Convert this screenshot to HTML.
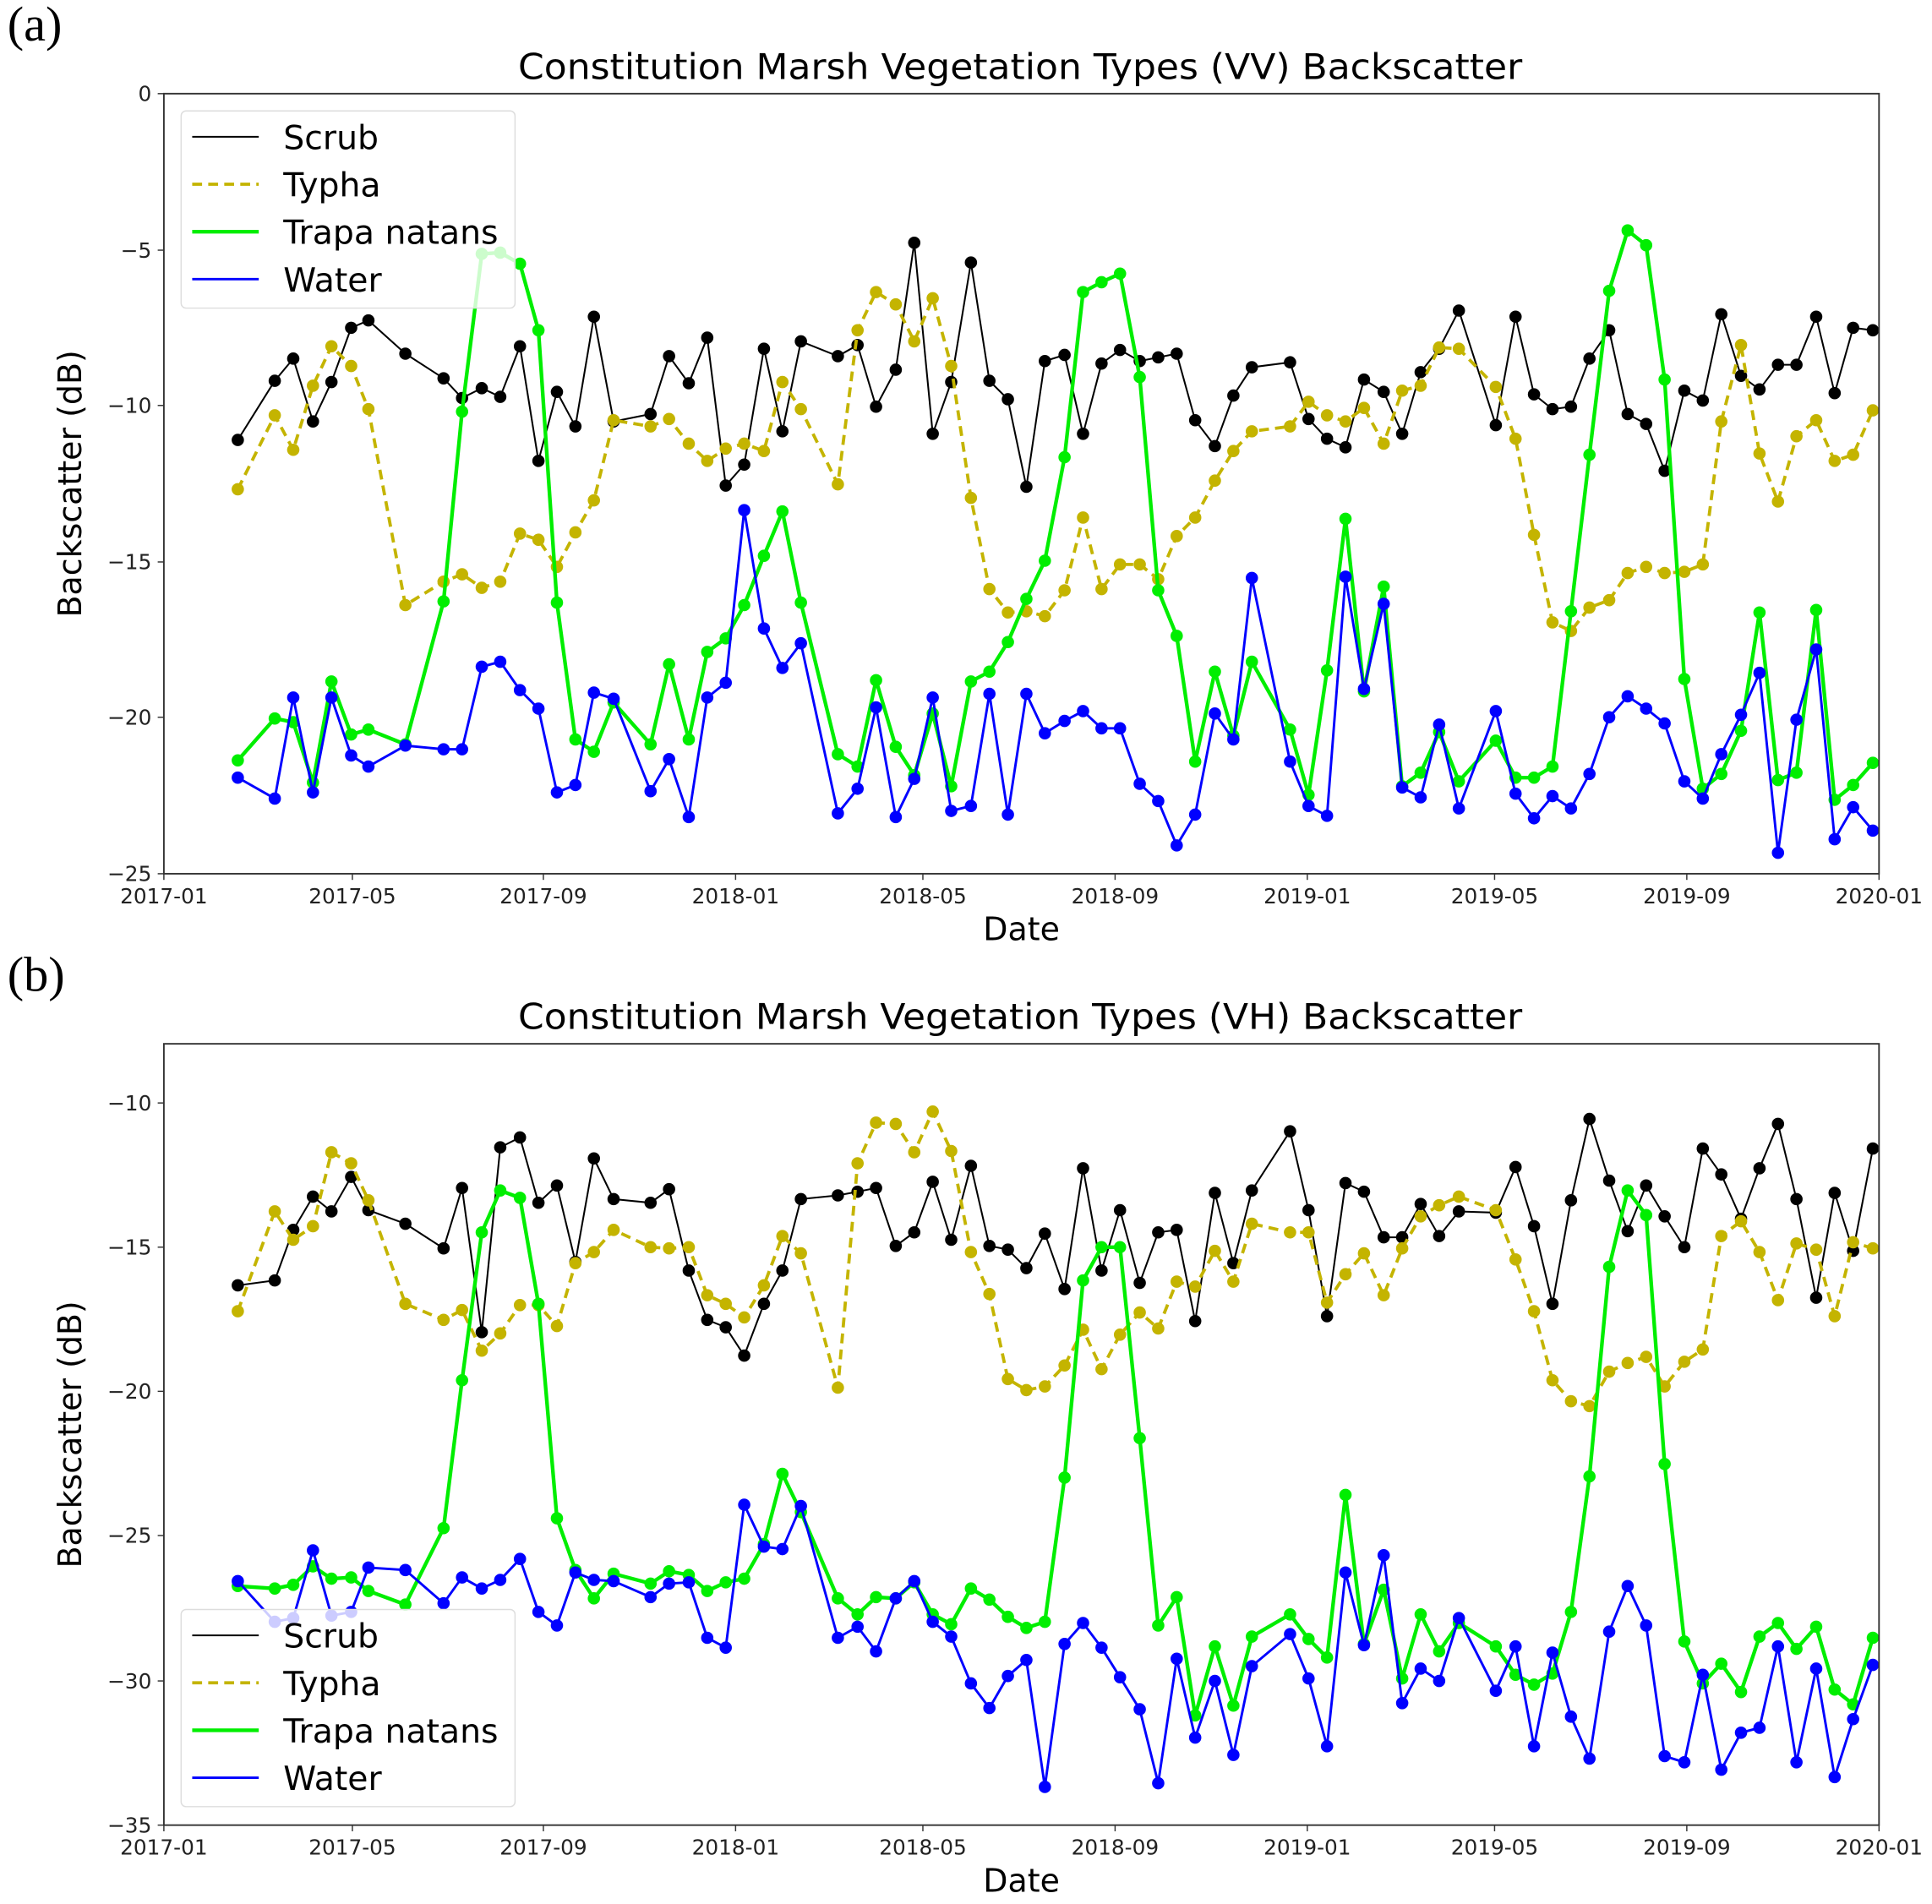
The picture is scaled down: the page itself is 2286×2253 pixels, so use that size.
<!DOCTYPE html>
<html><head><meta charset="utf-8"><style>html,body{margin:0;padding:0;background:#fff}svg{display:block}</style></head>
<body>
<svg id="s" width="2286" height="2253" viewBox="0 0 1568 1545" preserveAspectRatio="none" xmlns="http://www.w3.org/2000/svg" font-family="'DejaVu Sans','Liberation Sans',sans-serif"></svg>
<script>
const X=[193,223,238,254,269,285,299,329,360,375,391,406,422,437,452,467,482,498,528,543,559,574,589,604,620,635,650,680,696,711,727,742,757,772,788,803,818,833,848,864,879,894,909,925,940,955,970,986,1001,1016,1047,1062,1077,1092,1107,1123,1138,1153,1168,1184,1214,1230,1245,1260,1275,1290,1306,1321,1336,1351,1367,1382,1397,1413,1428,1443,1458,1474,1489,1504,1520];
const A={
s:[357,309,291,342,310,266,260,287,307,323,315,322,281,374,318,346,257,342,336,289,311,274,394,377,283,350,277,289,280,330,300,197,352,310,213,309,324,395,293,288,352,295,284,293,290,287,341,362,321,298,294,340,356,363,308,318,352,302,283,252,345,257,320,332,330,291,268,336,344,382,317,325,255,305,316,296,296,257,319,266,268],
t:[397,337,365,313,281,297,332,491,472,466,477,472,433,438,460,432,406,341,346,340,360,374,364,360,366,310,332,393,268,237,247,277,242,297,404,478,497,496,500,479,420,478,458,458,470,435,420,390,366,350,346,326,337,342,331,360,317,313,282,283,314,356,434,505,512,493,487,465,460,465,464,458,342,280,368,407,354,341,374,369,333],
g:[617,583,586,635,553,596,592,604,488,334,206,205,214,268,489,600,610,570,604,539,600,529,518,491,451,415,489,612,622,552,606,629,579,638,553,545,521,486,455,371,237,229,222,306,479,516,618,545,597,537,592,645,544,421,561,476,638,627,594,634,601,631,631,622,496,369,236,187,199,308,551,640,628,593,497,633,627,495,649,637,619],
w:[631,648,566,643,566,613,622,605,608,608,541,537,560,575,643,637,562,567,642,616,663,566,554,414,510,542,522,660,640,574,663,632,566,658,654,563,661,563,595,585,577,591,591,636,650,686,661,579,600,469,618,654,662,468,559,490,639,647,588,656,577,644,664,646,656,628,582,565,575,587,634,648,612,580,546,692,584,527,681,655,674]};
const B={
s:[1043,1039,998,971,983,955,982,993,1013,964,1081,931,923,976,962,1024,940,973,976,965,1031,1071,1077,1100,1058,1031,973,970,967,964,1011,1000,959,1006,946,1011,1014,1029,1001,1046,948,1031,982,1041,1000,998,1072,968,1025,966,918,982,1068,960,967,1004,1004,977,1003,983,984,947,995,1058,974,908,958,999,962,987,1012,932,953,989,948,912,973,1053,968,1015,932],
t:[1064,983,1006,995,935,944,974,1058,1071,1063,1096,1082,1059,1059,1076,1025,1016,998,1012,1013,1012,1051,1058,1069,1043,1003,1017,1126,944,911,912,935,902,934,1016,1050,1119,1128,1125,1108,1079,1111,1083,1065,1078,1040,1044,1015,1040,993,1000,1000,1057,1034,1017,1051,1013,987,978,971,982,1022,1064,1120,1137,1141,1113,1106,1101,1125,1105,1095,1003,991,1016,1055,1009,1014,1068,1008,1013],
g:[1287,1289,1286,1271,1281,1280,1291,1302,1240,1120,1000,966,972,1058,1232,1274,1297,1277,1285,1275,1278,1291,1284,1281,1253,1196,1227,1297,1310,1296,1297,1284,1310,1318,1289,1298,1312,1321,1316,1199,1039,1012,1012,1167,1319,1296,1392,1336,1384,1328,1310,1330,1345,1213,1334,1290,1362,1310,1340,1317,1336,1359,1367,1358,1308,1198,1028,966,986,1188,1332,1366,1350,1373,1328,1317,1338,1320,1371,1383,1329],
w:[1283,1316,1313,1258,1311,1308,1272,1274,1301,1280,1289,1282,1265,1308,1319,1276,1282,1283,1296,1285,1284,1329,1337,1221,1255,1257,1222,1329,1320,1340,1297,1283,1316,1328,1366,1386,1360,1347,1450,1334,1317,1337,1361,1387,1447,1346,1410,1364,1424,1352,1326,1362,1417,1276,1335,1262,1382,1354,1364,1313,1372,1336,1417,1341,1393,1427,1324,1287,1319,1425,1430,1359,1436,1406,1402,1336,1430,1354,1442,1395,1351]};
const ST={s:['#000',1.4,''],t:['#c4b400',2.6,'8,5'],g:['#00ee00',3,''],w:['#0000ff',2,'']};
let h='';
function series(D){for(const k of ['s','t','g','w']){const [c,lw,da]=ST[k];
 const pts=D[k].map((y,i)=>X[i]+','+y).join(' ');
 h+=`<polyline points="${pts}" fill="none" stroke="${c}" stroke-width="${lw}" ${da?`stroke-dasharray="${da}"`:''} stroke-linejoin="round"/>`;
 D[k].forEach((y,i)=>h+=`<circle cx="${X[i]}" cy="${y}" r="5" fill="${c}"/>`);}}
const xt=[[133,'2017-01'],[286,'2017-05'],[441,'2017-09'],[597,'2018-01'],[749,'2018-05'],[905,'2018-09'],[1061,'2019-01'],[1213,'2019-05'],[1369,'2019-09'],[1525,'2020-01']];
function panel(top,bot,yt,title,lab,ly){
 h+=`<text x="6" y="${top-43}" font-family="'Liberation Serif',serif" font-size="40">${lab}</text>`;
 h+=`<text x="828" y="${top-12}" text-anchor="middle" font-size="29" textLength="815" lengthAdjust="spacingAndGlyphs">${title}</text>`;
 return ()=>{
 h+=`<rect x="133" y="${top}" width="1392" height="${bot-top}" fill="none" stroke="#333" stroke-width="1.3"/>`;
 yt.forEach(([y,t])=>{h+=`<line x1="128" x2="133" y1="${y}" y2="${y}" stroke="#333"/><text x="123" y="${y+6}" text-anchor="end" font-size="17" fill="#222">${t}</text>`});
 xt.forEach(([x,t])=>{h+=`<line x1="${x}" x2="${x}" y1="${bot}" y2="${bot+5}" stroke="#333"/><text x="${x}" y="${bot+24}" text-anchor="middle" font-size="17" fill="#222">${t}</text>`});
 h+=`<text x="829" y="${bot+54}" text-anchor="middle" font-size="26">Date</text>`;
 h+=`<text transform="translate(66 ${(top+bot)/2}) rotate(-90)" text-anchor="middle" font-size="26">Backscatter (dB)</text>`;
 h+=`<rect x="147" y="${ly}" width="271" height="160" rx="4" fill="#fff" fill-opacity="0.8" stroke="#ddd"/>`;
 [['Scrub','s'],['Typha','t'],['Trapa natans','g'],['Water','w']].forEach(([n,k],i)=>{const [c,lw,da]=ST[k];const yy=ly+21+i*38.5;
  h+=`<line x1="156" x2="210" y1="${yy}" y2="${yy}" stroke="${c}" stroke-width="${lw}" ${da?`stroke-dasharray="${da}"`:''}/><text x="230" y="${yy+10}" font-size="27">${n}</text>`});};
}
let f=panel(76,709,[[76,'0'],[203,'−5'],[329,'−10'],[456,'−15'],[582,'−20'],[709,'−25']],'Constitution Marsh Vegetation Types (VV) Backscatter','(a)',90);
series(A);f();
f=panel(847,1481,[[895,'−10'],[1012,'−15'],[1129,'−20'],[1246,'−25'],[1364,'−30'],[1481,'−35']],'Constitution Marsh Vegetation Types (VH) Backscatter','(b)',1306);
series(B);f();
document.getElementById('s').innerHTML=h;
</script>
</body></html>
